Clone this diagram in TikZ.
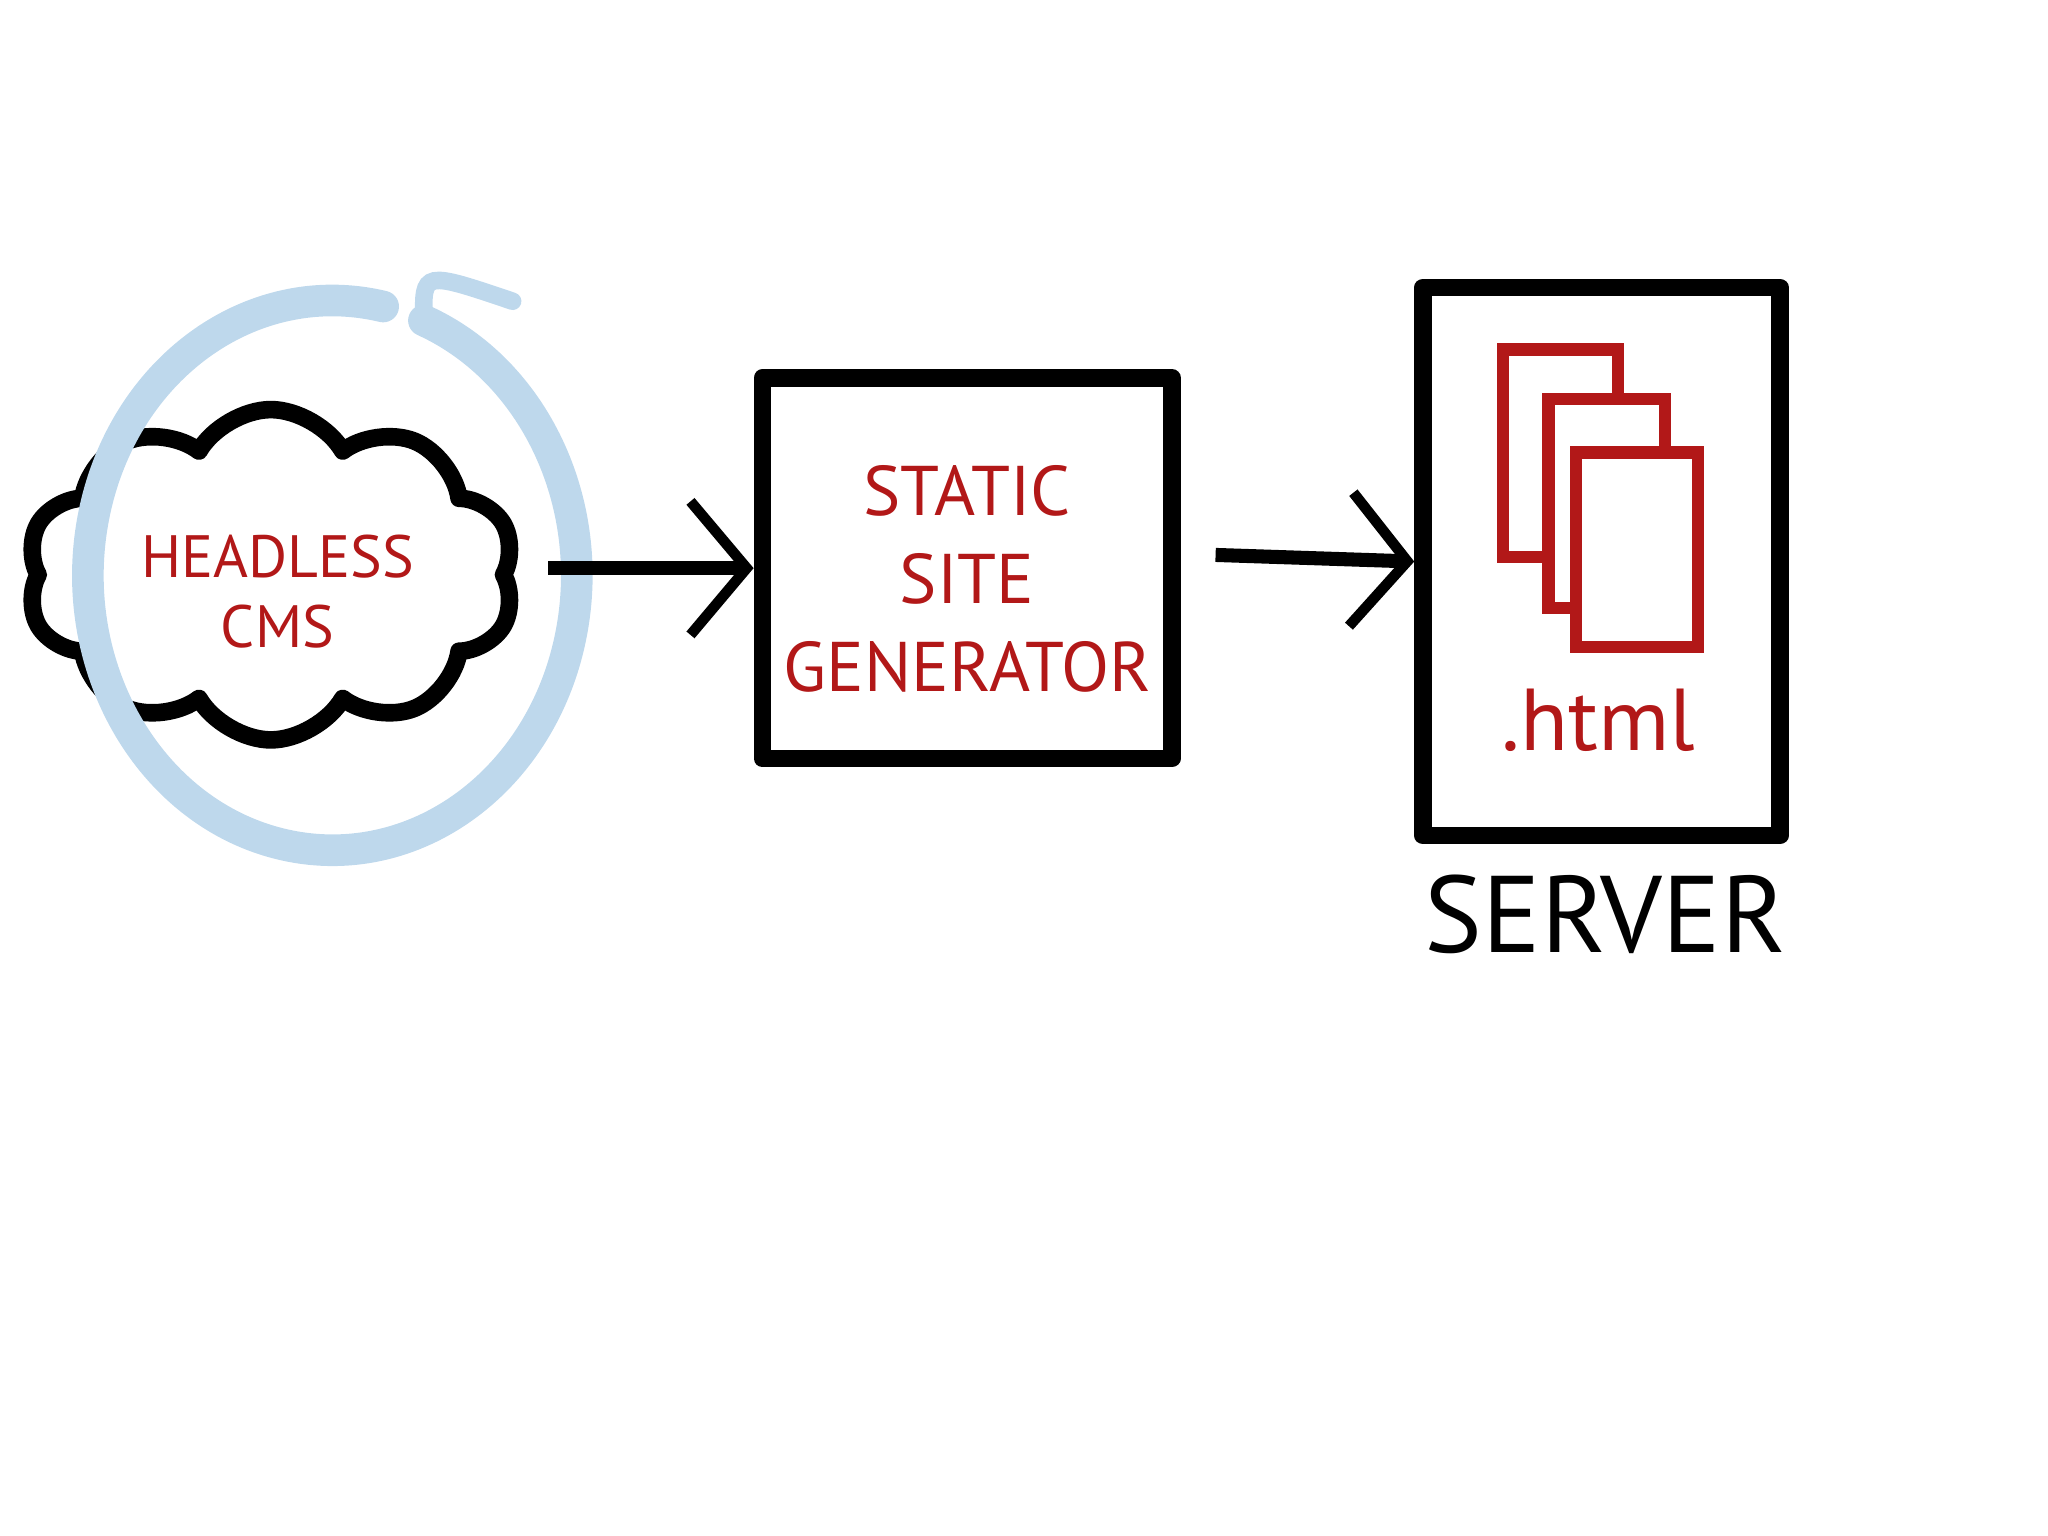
\documentclass[tikz,border=0pt]{standalone}
\usepackage{fontspec}
\setmainfont{PT Sans}
\usetikzlibrary{shapes.symbols,arrows.meta}
\definecolor{inkred}{RGB}{178,24,24}
\definecolor{skyblue}{RGB}{190,216,236}
\newdimen\pu
\pu=0.013213cm
\tikzset{
	ink/.style={line width=5pt, black, line cap=round, line join=round},
	redtext/.style={text=inkred, font=\fontsize{17}{20}\selectfont, align=center},
	page/.style={draw=inkred, line width=3.5pt, fill=white},
	flow/.style={line width=4pt, -{Straight Barb[length=16pt,width=38pt,line width=3pt]}}
}
\begin{document}
\begin{tikzpicture}[x=0.013213cm, y=-0.013213cm]
\useasboundingbox (0,0) rectangle (1550,1162);

% cms
\node[cloud, draw, ink, cloud puffs=10, cloud puff arc=120, aspect=1.6,
	minimum width=370\pu, minimum height=250\pu] (cms) at (205,435) {};
\draw[skyblue, line width=9pt, line cap=round] (290,232) arc[start angle=-78, end angle=-428, x radius=185, y radius=208] coordinate (loopend);
\draw[skyblue, line width=5pt, line cap=round] (loopend) .. controls (320,205) .. (388,228);
\node[redtext] (cmslabel) at (210,448) {HEADLESS\\CMS};

% generator
\node[draw, ink, minimum width=310\pu, minimum height=288\pu] (ssg) at (732,430) {};
\node[redtext, font=\fontsize{20}{25}\selectfont] (ssglabel) at (732,438) {STATIC\\SITE\\GENERATOR};

% server
\node[draw, ink, minimum width=270\pu, minimum height=415\pu] (server) at (1212,425) {};
\node[page, minimum width=87\pu, minimum height=157\pu] (pageA) at (1181,343) {};
\node[page, minimum width=88\pu, minimum height=158\pu] (pageB) at (1216,381) {};
\node[page, minimum width=92\pu, minimum height=147\pu] (pageC) at (1239,416) {};
\node[redtext, font=\fontsize{25}{28}\selectfont] (html) at (1210,545) {.html};
\node[font=\fontsize{31}{34}\selectfont] (serverlabel) at (1215,692) {SERVER};

% arrows
\draw[flow] (415,430) -- (ssg.west);
\draw[flow] (920,420) -- (server.west);
\end{tikzpicture}
\end{document}
